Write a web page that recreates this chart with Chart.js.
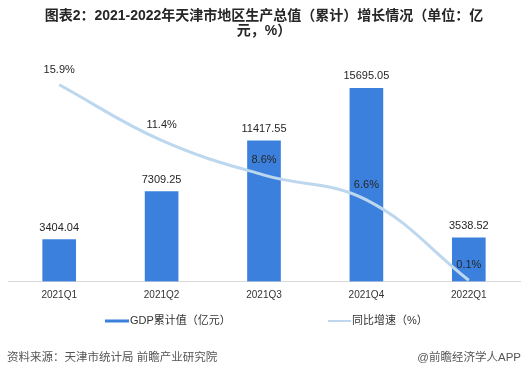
<!DOCTYPE html>
<html>
<head>
<meta charset="utf-8">
<script src="https://cdn.jsdelivr.net/npm/chart.js@4.4.1/dist/chart.umd.min.js"></script>
<style>
  html, body { margin: 0; padding: 0; background: #fff; }
  #wrap { width: 528px; height: 375px; }
</style>
</head>
<body>
<div id="wrap"><canvas id="gdpChart" width="528" height="375"></canvas></div>
<script>
// Data
const quarters = ['2021Q1', '2021Q2', '2021Q3', '2021Q4', '2022Q1'];
const gdpValues = [3404.04, 7309.25, 11417.55, 15695.05, 3538.52];
const growthRates = [15.9, 11.4, 8.6, 6.6, 0.1];
const seriesNames = ['GDP累计值（亿元）', '同比增速（%）'];
const titleLines = ['图表2：2021-2022年天津市地区生产总值（累计）增长情况（单位：亿', '元，%）'];
const sourceText = '资料来源：天津市统计局 前瞻产业研究院';
const creditText = '@前瞻经济学人APP';

const fontFamily = '"Liberation Sans", "Noto Sans CJK SC", sans-serif';
const barColor = '#3c80dd';
const lineColor = '#bdd7ee';

//Value labels above bars and line points
const valueLabels = {
    id: 'valueLabels',
    afterDatasetsDraw(chart) {
        const ctx = chart.ctx;
        ctx.save();
        ctx.font = '11px ' + fontFamily;
        ctx.fillStyle = '#262626';
        ctx.textAlign = 'center';
        ctx.textBaseline = 'middle';
        chart.getDatasetMeta(0).data.forEach((bar, i) => {
            ctx.fillText(gdpValues[i].toFixed(2), bar.x, bar.y - 12);
        });
        chart.getDatasetMeta(1).data.forEach((pt, i) => {
            ctx.fillText(growthRates[i].toFixed(1) + '%', pt.x, pt.y - 15);
        });
        ctx.restore();
    }
};

//Legend and source line under the plot
const bottomText = {
    id: 'bottomText',
    afterDraw(chart) {
        const ctx = chart.ctx;
        const legendY = 321;
        ctx.save();
        ctx.font = '11px ' + fontFamily;
        ctx.textBaseline = 'middle';
        ctx.textAlign = 'left';

        ctx.fillStyle = barColor;
        ctx.fillRect(105, legendY - 1.5, 24, 3);
        ctx.fillStyle = '#333';
        ctx.fillText(seriesNames[0], 130, legendY);

        ctx.strokeStyle = lineColor;
        ctx.lineWidth = 2;
        ctx.beginPath();
        ctx.moveTo(328, legendY);
        ctx.lineTo(351, legendY);
        ctx.stroke();
        ctx.fillStyle = '#333';
        ctx.fillText(seriesNames[1], 352, legendY);

        ctx.font = '11.5px ' + fontFamily;
        ctx.fillStyle = '#555';
        ctx.fillText(sourceText, 7, 358);
        ctx.textAlign = 'right';
        ctx.fillText(creditText, 521, 358);
        ctx.restore();
    }
};

const gdpChart = new Chart(
    document.getElementById('gdpChart'),
    {
        type: 'bar',
        data: {
            labels: quarters,
            datasets: [{
                type: 'bar',
                label: seriesNames[0],
                data: gdpValues,
                backgroundColor: barColor,
                barThickness: 33,
                yAxisID: 'y',
                order: 2
            }, {
                type: 'line',
                label: seriesNames[1],
                data: growthRates,
                borderColor: lineColor,
                backgroundColor: lineColor,
                borderWidth: 3,
                tension: 0.4,
                pointRadius: 0,
                yAxisID: 'y1',
                order: 1
            }]
        },
        options: {
            responsive: false,
            animation: false,
            devicePixelRatio: 1,
            layout: {
                padding: { left: 8, right: 8, top: 0, bottom: 65.5 }
            },
            scales: {
                x: {
                    grid: { display: false, drawTicks: false },
                    border: { display: true, color: '#d9d9d9', width: 1 },
                    ticks: {
                        padding: 8,
                        color: '#333',
                        font: { family: fontFamily, size: 10, lineHeight: 1.2 }
                    }
                },
                y: { display: false, min: 0, max: 19700 },
                y1: { display: false, min: 0, max: 19.6, position: 'right' }
            },
            plugins: {
                legend: { display: false },
                tooltip: { enabled: false },
                title: {
                    display: true,
                    text: titleLines,
                    color: '#262626',
                    font: { family: fontFamily, size: 14, weight: 'bold', lineHeight: '15px' },
                    padding: { top: 9, bottom: 0 }
                }
            }
        },
        plugins: [valueLabels, bottomText]
    }
);
</script>
</body>
</html>
